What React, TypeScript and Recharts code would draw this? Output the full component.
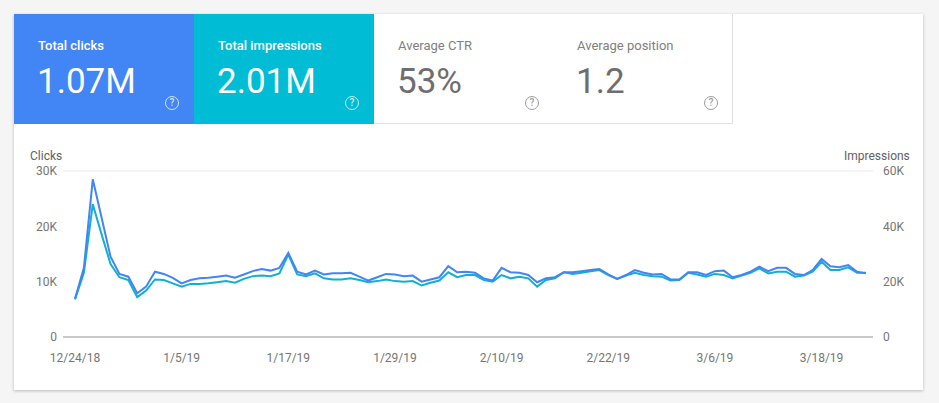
import React from "react";
import { LineChart, Line, XAxis, YAxis, CartesianGrid } from "recharts";

const dates = [
  "12/24/18","12/25/18","12/26/18","12/27/18","12/28/18","12/29/18","12/30/18","12/31/18",
  "1/1/19","1/2/19","1/3/19","1/4/19","1/5/19","1/6/19","1/7/19","1/8/19","1/9/19","1/10/19","1/11/19","1/12/19","1/13/19","1/14/19","1/15/19","1/16/19","1/17/19","1/18/19","1/19/19","1/20/19","1/21/19","1/22/19","1/23/19","1/24/19","1/25/19","1/26/19","1/27/19","1/28/19","1/29/19","1/30/19","1/31/19",
  "2/1/19","2/2/19","2/3/19","2/4/19","2/5/19","2/6/19","2/7/19","2/8/19","2/9/19","2/10/19","2/11/19","2/12/19","2/13/19","2/14/19","2/15/19","2/16/19","2/17/19","2/18/19","2/19/19","2/20/19","2/21/19","2/22/19","2/23/19","2/24/19","2/25/19","2/26/19","2/27/19","2/28/19",
  "3/1/19","3/2/19","3/3/19","3/4/19","3/5/19","3/6/19","3/7/19","3/8/19","3/9/19","3/10/19","3/11/19","3/12/19","3/13/19","3/14/19","3/15/19","3/16/19","3/17/19","3/18/19","3/19/19","3/20/19","3/21/19","3/22/19","3/23/19",
];

const clicks = [
  6900, 12500, 28500, 21500, 14500, 11400, 10900, 7900, 9100, 11800,
  11400, 10700, 9700, 10300, 10600, 10700, 10900, 11100, 10700, 11300,
  11900, 12300, 12000, 12500, 15200, 11800, 11300, 12000, 11300, 11500,
  11500, 11600, 10900, 10200, 10800, 11400, 11300, 11000, 11100, 10000,
  10400, 10800, 12800, 11700, 11800, 11600, 10600, 10200, 12500, 11700,
  11600, 11200, 9900, 10600, 10800, 11700, 11700, 11900, 12100, 12300,
  11300, 10500, 11200, 12100, 11600, 11300, 11400, 10400, 10400, 11700,
  11700, 11200, 11900, 12000, 10800, 11200, 11800, 12700, 11900, 12500,
  12500, 11400, 11200, 12100, 14100, 12800, 12600, 13000, 11800, 11500,
];

const impressions = [
  13600, 23200, 48000, 37000, 26400, 21600, 20600, 14400, 16800, 20800,
  20600, 19400, 18200, 19200, 19200, 19400, 19800, 20200, 19600, 21000,
  22000, 22200, 22000, 23000, 29800, 22600, 22000, 23000, 21200, 20800,
  20800, 21200, 20600, 19800, 20200, 20800, 20200, 20000, 20200, 18600,
  19600, 20400, 23400, 21600, 22400, 22400, 20600, 20000, 22400, 21200,
  21800, 21200, 18200, 20600, 21200, 23400, 22800, 23200, 23800, 24200,
  22400, 21000, 22200, 23200, 22400, 22000, 21800, 20400, 20600, 23200,
  22600, 21800, 22800, 22400, 21200, 22200, 23200, 24800, 23000, 23600,
  23600, 21800, 22200, 23600, 27200, 24200, 24200, 25200, 23200, 23200,
];

const xTicks = ["12/24/18", "1/5/19", "1/17/19", "1/29/19", "2/10/19", "2/22/19", "3/6/19", "3/18/19"];
const clickTicks = [0, 10000, 20000, 30000];
const impressionTicks = [0, 20000, 40000, 60000];

const metrics = [
  { label: "Total clicks", value: "1.07M", bg: "#4285f4", fg: "#ffffff", labelColor: "#ffffff", weight: 500 },
  { label: "Total impressions", value: "2.01M", bg: "#00bcd4", fg: "#ffffff", labelColor: "#ffffff", weight: 500 },
  { label: "Average CTR", value: "53%", bg: "#ffffff", fg: "#6e6e6e", labelColor: "#808080", weight: 400 },
  { label: "Average position", value: "1.2", bg: "#ffffff", fg: "#6e6e6e", labelColor: "#808080", weight: 400 },
];

const data = dates.map((d, i) => ({ date: d, clicks: clicks[i], impressions: impressions[i] }));

const fmtK = (v: number) => (v === 0 ? "0" : `${v / 1000}K`);

const FONT = "Roboto, 'Noto Sans', sans-serif";

export default function App() {
  return (
    <div style={{ position: "fixed", left: 0, top: 0, width: 939, height: 403, background: "#f5f5f5", fontFamily: FONT, overflow: "hidden" }}>
      <div style={{ position: "absolute", left: 14, top: 14, width: 909, height: 376, background: "#ffffff", boxShadow: "0 1px 3px rgba(0,0,0,0.25)" }}>
        {metrics.map((m, i) => {
          const white = m.bg === "#ffffff";
          return (
            <div
              key={m.label}
              style={{
                position: "absolute",
                left: i * 180 - (i >= 3 ? 1 : 0),
                top: 0,
                width: 180,
                height: 110,
                background: m.bg,
                boxSizing: "border-box",
                borderRight: white ? "1px solid #e0e0e0" : "none",
                borderBottom: white ? "1px solid #e0e0e0" : "none",
              }}
            >
              <div style={{ position: "absolute", left: 24, top: 25, fontSize: 13, lineHeight: "13px", color: m.labelColor, fontWeight: m.weight, whiteSpace: "nowrap" }}>{m.label}</div>
              <div style={{ position: "absolute", left: 23, top: 50, fontSize: 35, lineHeight: "35px", color: m.fg, fontWeight: 400, whiteSpace: "nowrap" }}>{m.value}</div>
              <div
                style={{
                  position: "absolute",
                  left: 151,
                  top: 82,
                  width: 14,
                  height: 14,
                  boxSizing: "border-box",
                  borderRadius: "50%",
                  border: `1.3px solid ${white ? "#9e9e9e" : "rgba(255,255,255,0.75)"}`,
                  color: white ? "#9e9e9e" : "rgba(255,255,255,0.8)",
                  fontSize: 10,
                  lineHeight: "12px",
                  textAlign: "center",
                  fontWeight: 500,
                }}
              >?</div>
            </div>
          );
        })}
        <div style={{ position: "absolute", left: 16, top: 136, fontSize: 12, lineHeight: "12px", color: "#616161" }}>Clicks</div>
        <div style={{ position: "absolute", left: 830, top: 136, fontSize: 12, lineHeight: "12px", color: "#616161" }}>Impressions</div>
        <div style={{ position: "absolute", left: 0, top: 116 }}>
          <LineChart width={909} height={250} data={data} margin={{ top: 41, right: 0, bottom: 13, left: 0 }}>
            <CartesianGrid horizontal={true} vertical={false} stroke="#e8e8e8" />
            <XAxis
              dataKey="date"
              ticks={xTicks}
              interval={0}
              tickLine={false}
              tickSize={0}
              tickMargin={16}
              padding={{ left: 12, right: 7 }}
              axisLine={{ stroke: "#9e9e9e" }}
              tick={{ fill: "#757575", fontSize: 12, fontFamily: FONT }}
              height={30}
            />
            <YAxis
              yAxisId="left"
              orientation="left"
              domain={[0, 30000]}
              ticks={clickTicks}
              tickFormatter={fmtK}
              axisLine={false}
              tickLine={false}
              tickSize={0}
              tickMargin={6}
              width={49}
              tick={{ fill: "#757575", fontSize: 12, fontFamily: FONT }}
            />
            <YAxis
              yAxisId="right"
              orientation="right"
              domain={[0, 60000]}
              ticks={impressionTicks}
              tickFormatter={fmtK}
              axisLine={false}
              tickLine={false}
              tickSize={0}
              tickMargin={10}
              width={50}
              tick={{ fill: "#757575", fontSize: 12, fontFamily: FONT }}
            />
            <Line yAxisId="right" type="linear" dataKey="impressions" stroke="#12b0d0" strokeWidth={2} dot={false} isAnimationActive={false} />
            <Line yAxisId="left" type="linear" dataKey="clicks" stroke="#4285f4" strokeWidth={2} dot={false} isAnimationActive={false} />
          </LineChart>
        </div>
      </div>
    </div>
  );
}
